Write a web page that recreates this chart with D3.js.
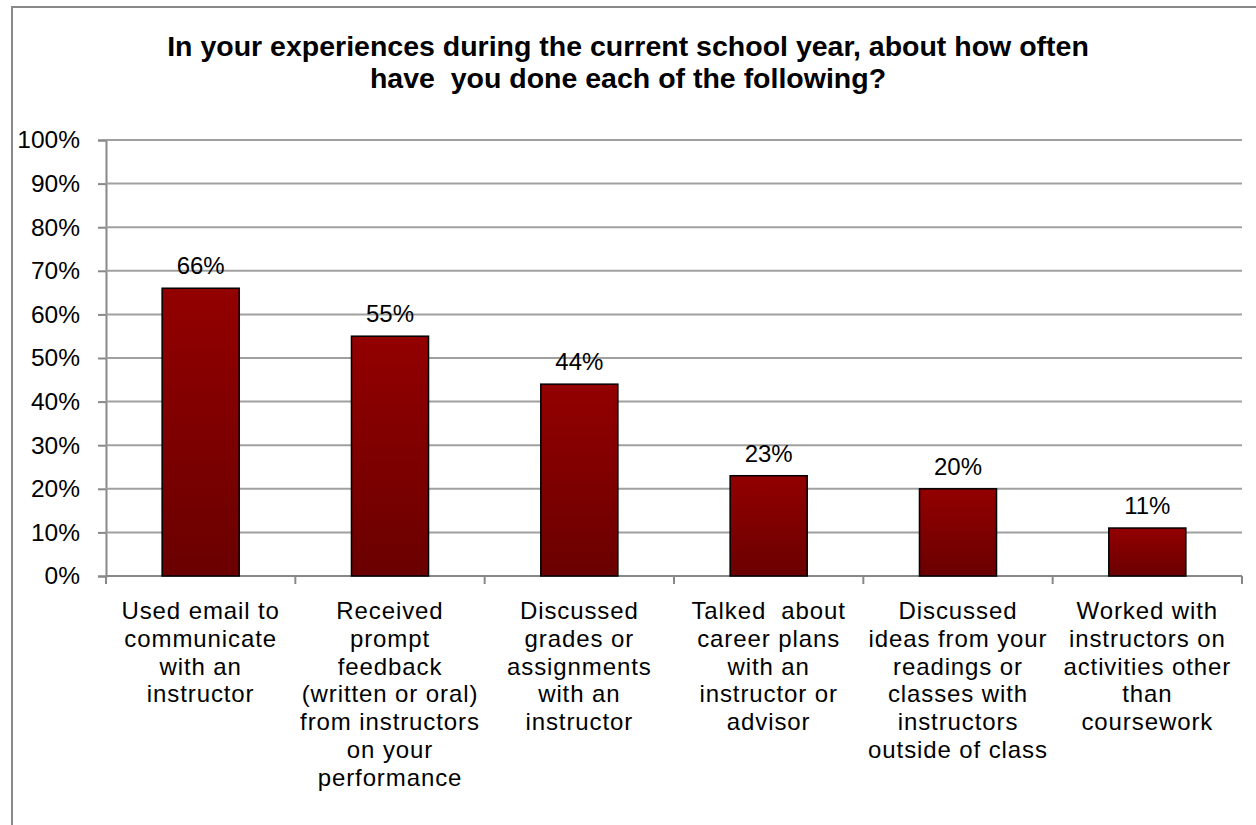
<!DOCTYPE html>
<html>
<head>
<meta charset="utf-8">
<script src="https://cdn.jsdelivr.net/npm/d3@7"></script>
<style>
  body { margin: 0; background: #fff; }
  text { font-family: Arial, "Liberation Sans", sans-serif; }
</style>
</head>
<body>
<div id="chart"></div>
<script>
// chart data
var categories = [
  ["Used email to", "communicate", "with an", "instructor"],
  ["Received", "prompt", "feedback", "(written or oral)", "from instructors", "on your", "performance"],
  ["Discussed", "grades or", "assignments", "with an", "instructor"],
  ["Talked  about", "career plans", "with an", "instructor or", "advisor"],
  ["Discussed", "ideas from your", "readings or", "classes with", "instructors", "outside of class"],
  ["Worked with", "instructors on", "activities other", "than", "coursework"]
];
var values = [0.66, 0.55, 0.44, 0.23, 0.20, 0.11];
var valueLabels = ["66%", "55%", "44%", "23%", "20%", "11%"];
var yTicks = [0, 0.1, 0.2, 0.3, 0.4, 0.5, 0.6, 0.7, 0.8, 0.9, 1.0];
var titleLines = ["In your experiences during the current school year, about how often",
                  "have  you done each of the following?"];

var svgwidth = 1256, svgheight = 825;
var plot = {left: 106, right: 1242, top: 140, bottom: 576};

var svg = d3.select('#chart')
  .append('svg')
    .attr('width', svgwidth)
    .attr('height', svgheight);

// outer chart border
svg.append('rect')
  .attr('x', 12).attr('y', 7)
  .attr('width', 1300).attr('height', 900)
  .attr('fill', '#fff')
  .attr('stroke', '#888')
  .attr('stroke-width', 2);

var defs = svg.append('defs');
var grad = defs.append('linearGradient')
  .attr('id', 'barGrad')
  .attr('x1', 0).attr('y1', 0).attr('x2', 0).attr('y2', 1);
grad.append('stop').attr('offset', '0%').attr('stop-color', '#930000');
grad.append('stop').attr('offset', '100%').attr('stop-color', '#6a0000');

var keys = categories.map(function(d, i) { return 'c' + i; });

var x = d3.scaleBand()
  .domain(keys)
  .range([plot.left, plot.right])
  .paddingInner(0.593)
  .paddingOuter(0.2965);

var y = d3.scaleLinear()
  .domain([0, 1])
  .range([plot.bottom, plot.top]);

// gridlines + y axis
var yAxis = d3.axisLeft(y)
  .tickValues(yTicks)
  .tickSize(8)
  .tickPadding(18)
  .tickFormat(d3.format('.0%'));

var gY = svg.append('g')
  .attr('transform', 'translate(' + plot.left + ',0)')
  .call(yAxis);
gY.select('.domain').attr('stroke', '#888').attr('stroke-width', 2);
gY.selectAll('.tick line').attr('stroke', '#888').attr('stroke-width', 2);
gY.selectAll('.tick text')
  .attr('font-size', 24.5)
  .attr('fill', '#000')
  .style('font-family', 'Arial, "Liberation Sans", sans-serif');

svg.append('g')
  .selectAll('line')
  .data(yTicks.filter(function(d) { return d > 0; }))
  .enter().append('line')
    .attr('x1', plot.left).attr('x2', plot.right)
    .attr('y1', function(d) { return y(d); })
    .attr('y2', function(d) { return y(d); })
    .attr('stroke', '#a0a0a0')
    .attr('stroke-width', 2);

// x axis line + category boundary ticks
svg.append('line')
  .attr('x1', plot.left).attr('x2', plot.right)
  .attr('y1', y(0)).attr('y2', y(0))
  .attr('stroke', '#888').attr('stroke-width', 2);

var step = x.step();
svg.append('g')
  .selectAll('line')
  .data(d3.range(keys.length + 1))
  .enter().append('line')
    .attr('x1', function(i) { return plot.left + i * step; })
    .attr('x2', function(i) { return plot.left + i * step; })
    .attr('y1', y(0)).attr('y2', y(0) + 8)
    .attr('stroke', '#888').attr('stroke-width', 2);

// bars
svg.append('g')
  .selectAll('rect')
  .data(values)
  .enter().append('rect')
    .attr('x', function(d, i) { return x(keys[i]); })
    .attr('y', function(d) { return y(d); })
    .attr('width', x.bandwidth())
    .attr('height', function(d) { return y(0) - y(d); })
    .attr('fill', 'url(#barGrad)')
    .attr('stroke', '#000')
    .attr('stroke-width', 1.5);

// value labels
svg.append('g')
  .selectAll('text')
  .data(values)
  .enter().append('text')
    .attr('x', function(d, i) { return x(keys[i]) + x.bandwidth() / 2; })
    .attr('y', function(d) { return y(d) - 14; })
    .attr('text-anchor', 'middle')
    .attr('font-size', 24)
    .attr('fill', '#000')
    .text(function(d, i) { return valueLabels[i]; });

// category labels
var catG = svg.append('g');
categories.forEach(function(lines, i) {
  var t = catG.append('text')
    .attr('text-anchor', 'middle')
    .attr('font-size', 24)
    .attr('letter-spacing', 0.9)
    .attr('fill', '#000')
    .style('white-space', 'pre');
  lines.forEach(function(line, j) {
    t.append('tspan')
      .attr('x', x(keys[i]) + x.bandwidth() / 2)
      .attr('y', 619 + j * 27.8)
      .text(line);
  });
});

// title
var title = svg.append('text')
  .attr('text-anchor', 'middle')
  .attr('font-size', 28.5)
  .attr('font-weight', 'bold')
  .attr('fill', '#000')
  .style('white-space', 'pre');
titleLines.forEach(function(line, j) {
  title.append('tspan')
    .attr('x', 628)
    .attr('y', 56 + j * 32)
    .text(line);
});
</script>
</body>
</html>
